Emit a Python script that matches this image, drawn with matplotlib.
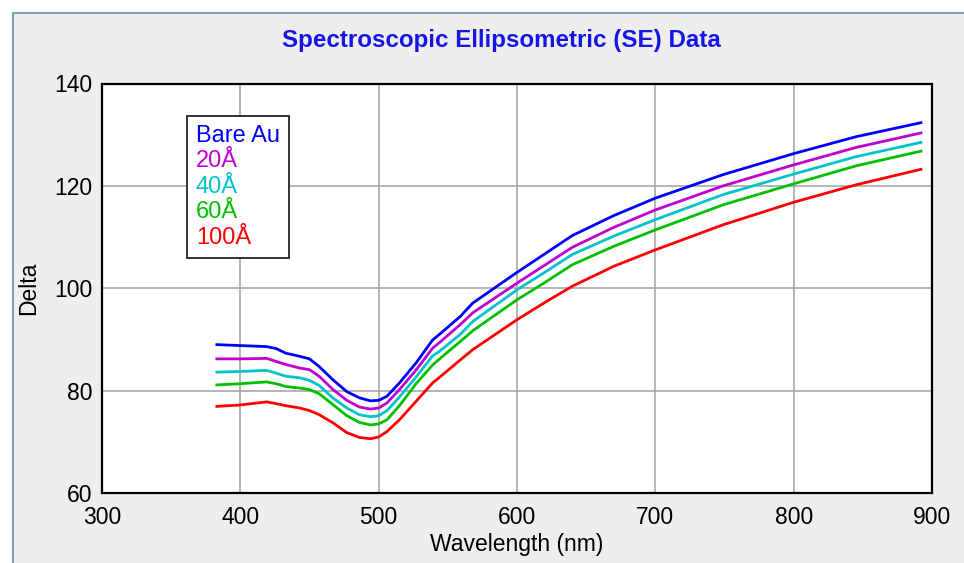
import matplotlib
matplotlib.use("Agg")
import matplotlib.pyplot as plt
from matplotlib.patches import Rectangle

plt.rcParams['font.family'] = ['Liberation Sans', 'DejaVu Sans']

wavelength = [382, 400, 419, 426, 433, 443, 450, 457, 467, 477, 486, 494, 500,
              506, 515, 527, 539, 544, 559, 568, 600, 620, 640, 670, 700, 749, 800, 845, 893]

bare_au = [89.0, 88.8, 88.6, 88.2, 87.3, 86.7, 86.2, 84.7, 82.1, 79.8, 78.6, 78.0, 78.1,
           78.9, 81.5, 85.4, 89.9, 91.0, 94.5, 97.1, 103.1, 106.7, 110.3, 114.2, 117.6,
           122.2, 126.3, 129.6, 132.4]
a20 = [86.2, 86.2, 86.3, 85.7, 85.1, 84.4, 84.1, 82.8, 80.2, 78.1, 76.8, 76.4, 76.6,
       77.6, 80.2, 84.0, 88.3, 89.4, 92.9, 95.2, 101.0, 104.5, 108.0, 111.9, 115.3,
       120.0, 124.1, 127.5, 130.4]
a40 = [83.6, 83.75, 83.95, 83.4, 82.8, 82.5, 82.0, 81.0, 78.55, 76.6, 75.3, 74.9, 75.1,
       76.1, 78.75, 82.65, 86.8, 87.7, 91.0, 93.5, 99.7, 103.1, 106.6, 110.2, 113.4,
       118.3, 122.3, 125.7, 128.55]
a60 = [81.1, 81.35, 81.7, 81.35, 80.8, 80.5, 80.2, 79.4, 77.25, 75.1, 73.8, 73.3, 73.5,
       74.3, 77.05, 81.35, 85.0, 86.2, 89.6, 91.7, 97.75, 101.1, 104.6, 108.2, 111.4,
       116.3, 120.4, 123.9, 126.85]
a100 = [76.9, 77.2, 77.8, 77.45, 77.05, 76.6, 76.1, 75.3, 73.7, 71.8, 70.85, 70.6, 70.95,
        72.0, 74.3, 77.9, 81.5, 82.6, 86.0, 88.0, 93.85, 97.2, 100.4, 104.3, 107.5,
        112.4, 116.8, 120.2, 123.3]

series = [("Bare Au", bare_au, "#0000FF"),
          ("20Å", a20, "#C000D0"),
          ("40Å", a40, "#00C4C8"),
          ("60Å", a60, "#00C000"),
          ("100Å", a100, "#FF0000")]

xticks = [300, 400, 500, 600, 700, 800, 900]
yticks = [60, 80, 100, 120, 140]

W, H = 964, 563
fig = plt.figure(figsize=(W / 100, H / 100), dpi=100)
fig.patch.set_facecolor("white")
fig.patches.append(Rectangle((12.5 / W, -0.1), 1.2, (H - 13.5) / H + 0.1,
                             transform=fig.transFigure, facecolor="#EEEEEE",
                             edgecolor="#5B8CB5", linewidth=1.2, zorder=-10))

ax = fig.add_axes([102 / W, 1 - 493 / H, (932 - 102) / W, (493 - 83.5) / H])
ax.set_facecolor("white")

for name, vals, col in series:
    ax.plot(wavelength, vals, color=col, lw=2.0, label=name,
            solid_capstyle="butt", solid_joinstyle="round")

ax.set_xlim(300, 900)
ax.set_ylim(60, 140)
ax.set_xticks(xticks)
ax.set_yticks(yticks)
ax.grid(True, color="#A0A0A0", lw=1.1)
ax.set_axisbelow(True)
ax.tick_params(length=0, labelsize=16.5, colors="black")
ax.tick_params(axis="x", pad=9)
ax.tick_params(axis="y", pad=7)
for s in ax.spines.values():
    s.set_linewidth(1.6)
    s.set_color("black")

ax.set_xlabel("Wavelength (nm)", fontsize=16.5, labelpad=3)
ax.set_ylabel("Delta", fontsize=16.5, labelpad=10)

fig.text(501 / W, 1 - 40 / H, "Spectroscopic Ellipsometric (SE) Data",
         ha="center", va="center", fontsize=17.4, fontweight="bold", color="#1515E8")

leg = ax.legend(loc="upper left", bbox_to_anchor=((187 - 102) / 830, (493 - 116) / 409.5),
                handlelength=0, handletextpad=0, labelcolor="linecolor",
                fontsize=17, frameon=True, fancybox=False, framealpha=1,
                edgecolor="#333333", borderpad=0.38, labelspacing=0.145,
                borderaxespad=0)
leg.get_frame().set_linewidth(1.4)
for h in leg.legend_handles:
    h.set_visible(False)

fig.savefig("out.png", dpi=100)
